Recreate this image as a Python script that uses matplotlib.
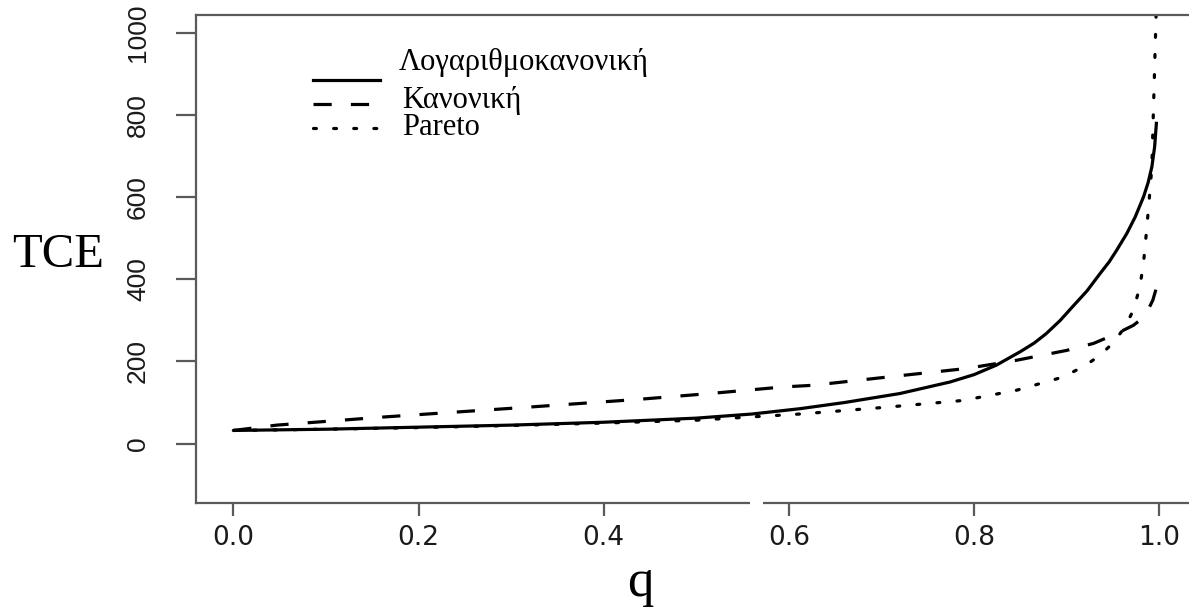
import matplotlib
matplotlib.use("Agg")
import matplotlib.pyplot as plt
from matplotlib.lines import Line2D
from matplotlib.patches import Rectangle

# ---- data ----
q_logn = [0.0, 0.1, 0.2, 0.3, 0.4, 0.5, 0.56, 0.612, 0.66, 0.72, 0.774, 0.8,
          0.824, 0.85, 0.865, 0.878, 0.893, 0.907, 0.922, 0.936, 0.946, 0.954,
          0.965, 0.974, 0.983, 0.988, 0.992, 0.995, 0.997]
tce_logn = [32, 35, 40, 45, 52, 62, 72, 85, 100, 122, 150, 168,
            191, 224, 245, 268, 300, 335, 372, 414, 443, 471,
            512, 552, 601, 636, 674, 723, 784]

q_norm = [0.0, 0.047, 0.164, 0.281, 0.32, 0.439, 0.515, 0.594, 0.626, 0.702,
          0.792, 0.846, 0.9, 0.929, 0.954, 0.972, 0.98, 0.986, 0.993, 0.997]
tce_norm = [32, 45, 65, 83, 89, 108, 122, 138, 142, 161,
            183, 203, 227, 244, 268, 288, 302, 317, 349, 380]

q_par = [0.0, 0.1, 0.2, 0.3, 0.4, 0.5, 0.612, 0.702, 0.788, 0.846, 0.896,
         0.92, 0.936, 0.95, 0.963, 0.972, 0.979, 0.983, 0.986, 0.989, 0.992,
         0.994, 0.9965, 0.998]
tce_par = [32, 35, 39, 44, 50, 57, 72, 88, 105, 130, 162,
           190, 215, 245, 284, 325, 381, 440, 512, 590, 674,
           836, 1039, 1200]

labels = ["Λογαριθμοκανονική", "Κανονική", "Pareto"]
x_ticks = [0.0, 0.2, 0.4, 0.6, 0.8, 1.0]
x_ticklabels = ["0.0", "0.2", "0.4", "0.6", "0.8", "1.0"]
y_ticks = [0, 200, 400, 600, 800, 1000]
y_ticklabels = ["0", "200", "400", "600", "800", "1000"]

# ---- figure ----
W, H = 1189, 613
fig = plt.figure(figsize=(W / 100, H / 100), dpi=100)
fig.patch.set_facecolor("white")

# axes box in pixels: left 196.3, right 1196.3 (clipped), top 15, bottom 502.7
L, R, T, B = 196.3, 1196.3, 15.0, 502.7
ax = fig.add_axes([L / W, 1 - B / H, (R - L) / W, (B - T) / H])
ax.set_xlim(-0.04, 1.04)
ax.set_ylim(-144, 1044)

lw = 2.3
styles = ["-", (0, (5.7, 6.0)), (0, (0.9, 5.4))]
caps = ["butt", "butt", "round"]
series = [(q_logn, tce_logn), (q_norm, tce_norm), (q_par, tce_par)]
for (xs, ys), ls, cs in zip(series, styles, caps):
    ax.plot(xs, ys, color="black", lw=lw, linestyle=ls,
            dash_capstyle=cs, solid_capstyle="butt", solid_joinstyle="round")

spine_col = "#5a5a5a"
for s in ax.spines.values():
    s.set_color(spine_col)
    s.set_linewidth(1.6)

ax.set_xticks(x_ticks)
ax.set_xticklabels(x_ticklabels, fontfamily="DejaVu Sans", fontsize=19, color="#1a1a1a")
ax.set_yticks(y_ticks)
ax.set_yticklabels(y_ticklabels, fontfamily="Liberation Sans", fontsize=19,
                   color="#1a1a1a", rotation=90, va="center")
ax.tick_params(axis="x", length=9.4, width=1.6, color=spine_col, pad=7)
ax.tick_params(axis="y", length=14.4, width=1.6, color=spine_col, pad=19)

# legend drawn by hand (lines and labels are offset as in the reference)
def axfx(px):
    return (px - L) / (R - L)

def axfy(py):
    return (B - py) / (B - T)

for py, ls, cs in zip([80, 104, 128], styles, caps):
    ax.add_line(Line2D([axfx(313), axfx(380)], [axfy(py), axfy(py)],
                       transform=ax.transAxes, color="black", lw=lw, linestyle=ls,
                       dash_capstyle=cs))

serif = ["Liberation Serif", "DejaVu Serif"]
for (px, py), lab in zip([(399, 70), (402, 108), (402, 135)], labels):
    ax.text(axfx(px), axfy(py), lab, transform=ax.transAxes, ha="left",
            va="baseline", fontsize=22, family=serif, color="black")

# axis titles
fig.text(58 / W, 1 - 267 / H, "TCE", ha="center", va="baseline",
         fontsize=35, family=serif, color="black")
fig.text(640 / W, 1 - 596 / H, "q", ha="center", va="baseline",
         fontsize=38, family=serif, color="black")

# small white break in the bottom border, as in the reference image
fig.add_artist(Rectangle((750 / W, 1 - 508 / H), 12.7 / W, 10 / H,
                         transform=fig.transFigure, facecolor="white",
                         edgecolor="none", zorder=10))

fig.savefig("out.png", dpi=100, facecolor="white")
